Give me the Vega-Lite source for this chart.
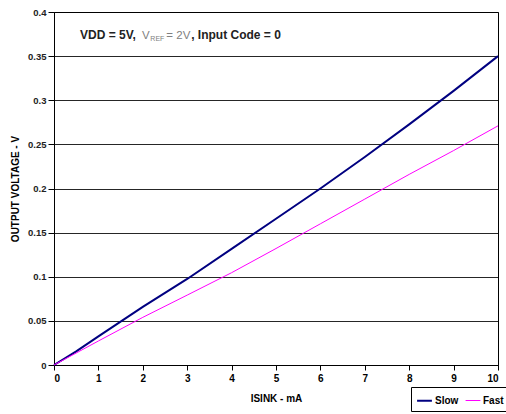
{
  "$schema": "https://vega.github.io/schema/vega-lite/v6.json",
  "width": 444,
  "height": 353,
  "autosize": {"type": "none"},
  "padding": {"left": 54, "top": 12, "right": 8, "bottom": 49},
  "background": "white",
  "config": {
    "font": "Liberation Sans",
    "view": {"stroke": "black", "strokeWidth": 1}
  },
  "datasets": {
    "curves": [
      {"isink": 0, "v": 0.0, "series": "Slow"},
      {"isink": 0.5, "v": 0.0155, "series": "Slow"},
      {"isink": 1, "v": 0.0325, "series": "Slow"},
      {"isink": 2, "v": 0.0658, "series": "Slow"},
      {"isink": 3, "v": 0.0975, "series": "Slow"},
      {"isink": 4, "v": 0.1315, "series": "Slow"},
      {"isink": 5, "v": 0.1657, "series": "Slow"},
      {"isink": 6, "v": 0.2, "series": "Slow"},
      {"isink": 7, "v": 0.2357, "series": "Slow"},
      {"isink": 8, "v": 0.2726, "series": "Slow"},
      {"isink": 9, "v": 0.3106, "series": "Slow"},
      {"isink": 10, "v": 0.35, "series": "Slow"},
      {"isink": 0, "v": 0.0, "series": "Fast"},
      {"isink": 1, "v": 0.0272, "series": "Fast"},
      {"isink": 2, "v": 0.054, "series": "Fast"},
      {"isink": 3, "v": 0.0792, "series": "Fast"},
      {"isink": 4, "v": 0.1046, "series": "Fast"},
      {"isink": 5, "v": 0.132, "series": "Fast"},
      {"isink": 6, "v": 0.16, "series": "Fast"},
      {"isink": 7, "v": 0.188, "series": "Fast"},
      {"isink": 8, "v": 0.216, "series": "Fast"},
      {"isink": 9, "v": 0.243, "series": "Fast"},
      {"isink": 10, "v": 0.271, "series": "Fast"}
    ]
  },
  "layer": [
    {
      "data": {"name": "curves"},
      "mark": {"type": "line", "interpolate": "linear"},
      "encoding": {
        "x": {
          "field": "isink", "type": "quantitative",
          "scale": {"domain": [0, 10], "nice": false},
          "axis": {
            "title": "ISINK - mA",
            "values": [0,1,2,3,4,5,6,7,8,9,10],
            "grid": false,
            "domainColor": "black",
            "tickColor": "black",
            "tickSize": 5,
            "labelFont": "Liberation Sans",
            "labelFontWeight": "bold",
            "labelFontSize": 10,
            "labelColor": "black",
            "labelPadding": 3,
            "titleFont": "Liberation Sans",
            "titleFontWeight": "bold",
            "titleFontSize": 10,
            "titleColor": "black",
            "titlePadding": 10
          }
        },
        "y": {
          "field": "v", "type": "quantitative",
          "scale": {"domain": [0, 0.4], "nice": false},
          "axis": {
            "title": "OUTPUT VOLTAGE - V",
            "values": [0, 0.05, 0.1, 0.15, 0.2, 0.25, 0.3, 0.35, 0.4],
            "format": "~g",
            "grid": true,
            "gridColor": "black",
            "gridOpacity": 0.85,
            "domainColor": "black",
            "tickColor": "black",
            "tickSize": 6,
            "labelFont": "Liberation Sans",
            "labelFontWeight": "bold",
            "labelFontSize": 9.5,
            "labelColor": "#222222",
            "labelPadding": 2,
            "titleFont": "Liberation Sans",
            "titleFontWeight": "bold",
            "titleFontSize": 10,
            "titleColor": "black",
            "titlePadding": 7
          }
        },
        "color": {
          "field": "series", "type": "nominal",
          "scale": {"domain": ["Slow", "Fast"], "range": ["#000080", "#FF00FF"]},
          "legend": {
            "title": null,
            "orient": "none",
            "legendX": 357,
            "legendY": 375,
            "direction": "horizontal",
            "symbolType": "stroke",
            "symbolSize": 220,
            "symbolStrokeWidth": 2,
            "labelFont": "Liberation Sans",
            "labelFontWeight": "bold",
            "labelFontSize": 10,
            "labelColor": "black",
            "labelOffset": 2,
            "columnPadding": 4,
            "strokeColor": "black",
            "fillColor": "white",
            "padding": 5,
            "cornerRadius": 0
          }
        },
        "strokeWidth": {
          "field": "series", "type": "nominal",
          "scale": {"domain": ["Slow", "Fast"], "range": [2, 1]},
          "legend": null
        }
      }
    },
    {
      "data": {"values": [{"x": 0.586, "y": 0.3694, "t": "VDD = 5V,"}]},
      "mark": {"type": "text", "align": "left", "baseline": "alphabetic", "font": "Liberation Sans", "fontWeight": "bold", "fontSize": 12, "color": "#222222"},
      "encoding": {"x": {"field": "x", "type": "quantitative"}, "y": {"field": "y", "type": "quantitative"}, "text": {"field": "t"}}
    },
    {
      "data": {"values": [{"x": 1.98, "y": 0.3694, "t": "V"}, {"x": 2.53, "y": 0.3694, "t": "= 2V"}]},
      "mark": {"type": "text", "align": "left", "baseline": "alphabetic", "font": "Liberation Sans", "fontWeight": "normal", "fontSize": 11.5, "color": "#808080"},
      "encoding": {"x": {"field": "x", "type": "quantitative"}, "y": {"field": "y", "type": "quantitative"}, "text": {"field": "t"}}
    },
    {
      "data": {"values": [{"x": 2.17, "y": 0.3668, "t": "REF"}]},
      "mark": {"type": "text", "align": "left", "baseline": "alphabetic", "font": "Liberation Sans", "fontWeight": "normal", "fontSize": 7, "color": "#808080"},
      "encoding": {"x": {"field": "x", "type": "quantitative"}, "y": {"field": "y", "type": "quantitative"}, "text": {"field": "t"}}
    },
    {
      "data": {"values": [{"x": 3.09, "y": 0.3694, "t": ", Input Code = 0"}]},
      "mark": {"type": "text", "align": "left", "baseline": "alphabetic", "font": "Liberation Sans", "fontWeight": "bold", "fontSize": 12, "color": "#222222"},
      "encoding": {"x": {"field": "x", "type": "quantitative"}, "y": {"field": "y", "type": "quantitative"}, "text": {"field": "t"}}
    }
  ]
}
